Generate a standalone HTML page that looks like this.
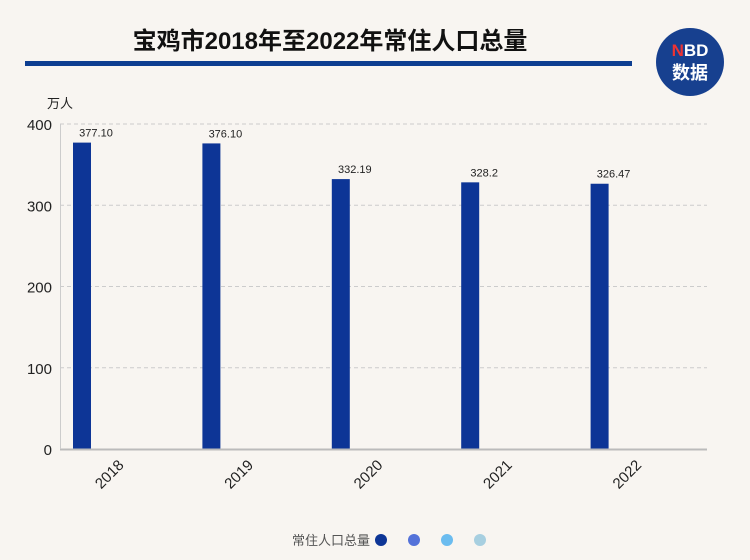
<!DOCTYPE html>
<html><head><meta charset="utf-8"><style>
body{margin:0;background:#f8f5f1;}
svg{display:block;font-family:"Liberation Sans","Noto Sans CJK SC",sans-serif;}
</style></head><body>
<svg width="750" height="560">
<rect width="750" height="560" fill="#f8f5f1"/>
<text x="330" y="49" text-anchor="middle" font-size="24" font-weight="bold" fill="#111">宝鸡市2018年至2022年常住人口总量</text>
<rect x="25" y="61" width="607" height="5" fill="#0d3e91"/>
<g>
<circle cx="690" cy="62" r="34" fill="#17408f"/>
<text x="690" y="56" text-anchor="middle" font-size="17" font-weight="bold" fill="#fff"><tspan fill="#e33">N</tspan>BD</text>
<text x="690" y="79" text-anchor="middle" font-size="18" font-weight="bold" fill="#fff">数据</text>
</g>
<text x="47" y="108" font-size="13" fill="#222">万人</text>
<g id="grid"></g>
<g id="bars"></g>
<line x1="60" y1="449.5" x2="707" y2="449.5" stroke="#bbb" stroke-width="2"/>
<line x1="60.5" y1="124" x2="60.5" y2="449" stroke="#ccc" stroke-width="1"/>
<g>
<text x="370" y="545" text-anchor="end" font-size="13" fill="#555">常住人口总量</text>
<circle cx="381" cy="540" r="6" fill="#0d3596"/>
<circle cx="414" cy="540" r="6" fill="#5472d9"/>
<circle cx="447" cy="540" r="6" fill="#6bbcef"/>
<circle cx="480" cy="540" r="6" fill="#a7cfe0"/>
</g>
</svg>
<script>
const categories=["2018","2019","2020","2021","2022"];
const values=[377.10,376.10,332.19,328.2,326.47];
const valueLabels=["377.10","376.10","332.19","328.2","326.47"];
const yTicks=[0,100,200,300,400];
const NS="http://www.w3.org/2000/svg";
const x0=60,x1=707,yb=449,yt=124,ymax=400;
const bw=(x1-x0)/categories.length;
const y=v=>yb-(v/ymax)*(yb-yt);
const grid=document.getElementById('grid'),bars=document.getElementById('bars');
function mk(t,a,p){const e=document.createElementNS(NS,t);for(const k in a)e.setAttribute(k,a[k]);p.appendChild(e);return e;}
yTicks.forEach(t=>{
 if(t>0){const l=mk('line',{x1:x0,x2:x1,y1:y(t),y2:y(t),stroke:'#ccc','stroke-dasharray':'4 3'},grid);
 
 }
 const tx=mk('text',{x:52,y:y(t)+6,'text-anchor':'end','font-size':15,fill:'#222'},grid);tx.textContent=t;
 
 
});
categories.forEach((c,i)=>{
 const bx=x0+bw*i+13;
 const r=mk('rect',{x:bx,y:y(values[i]),width:18,height:yb-y(values[i]),fill:'#0d3596'},bars);
 
 
 const vl=mk('text',{x:bx+9+14,y:y(values[i])-6,'text-anchor':'middle','font-size':11,fill:'#222'},bars);vl.textContent=valueLabels[i];
 
 
 const cx=x0+bw*i+bw/2;
 const xl=mk('text',{x:cx,y:466,'text-anchor':'end','font-size':15,fill:'#222',transform:`rotate(-45 ${cx} 466)`},bars);xl.textContent=c;
 
 
});
</script>
</body></html>
